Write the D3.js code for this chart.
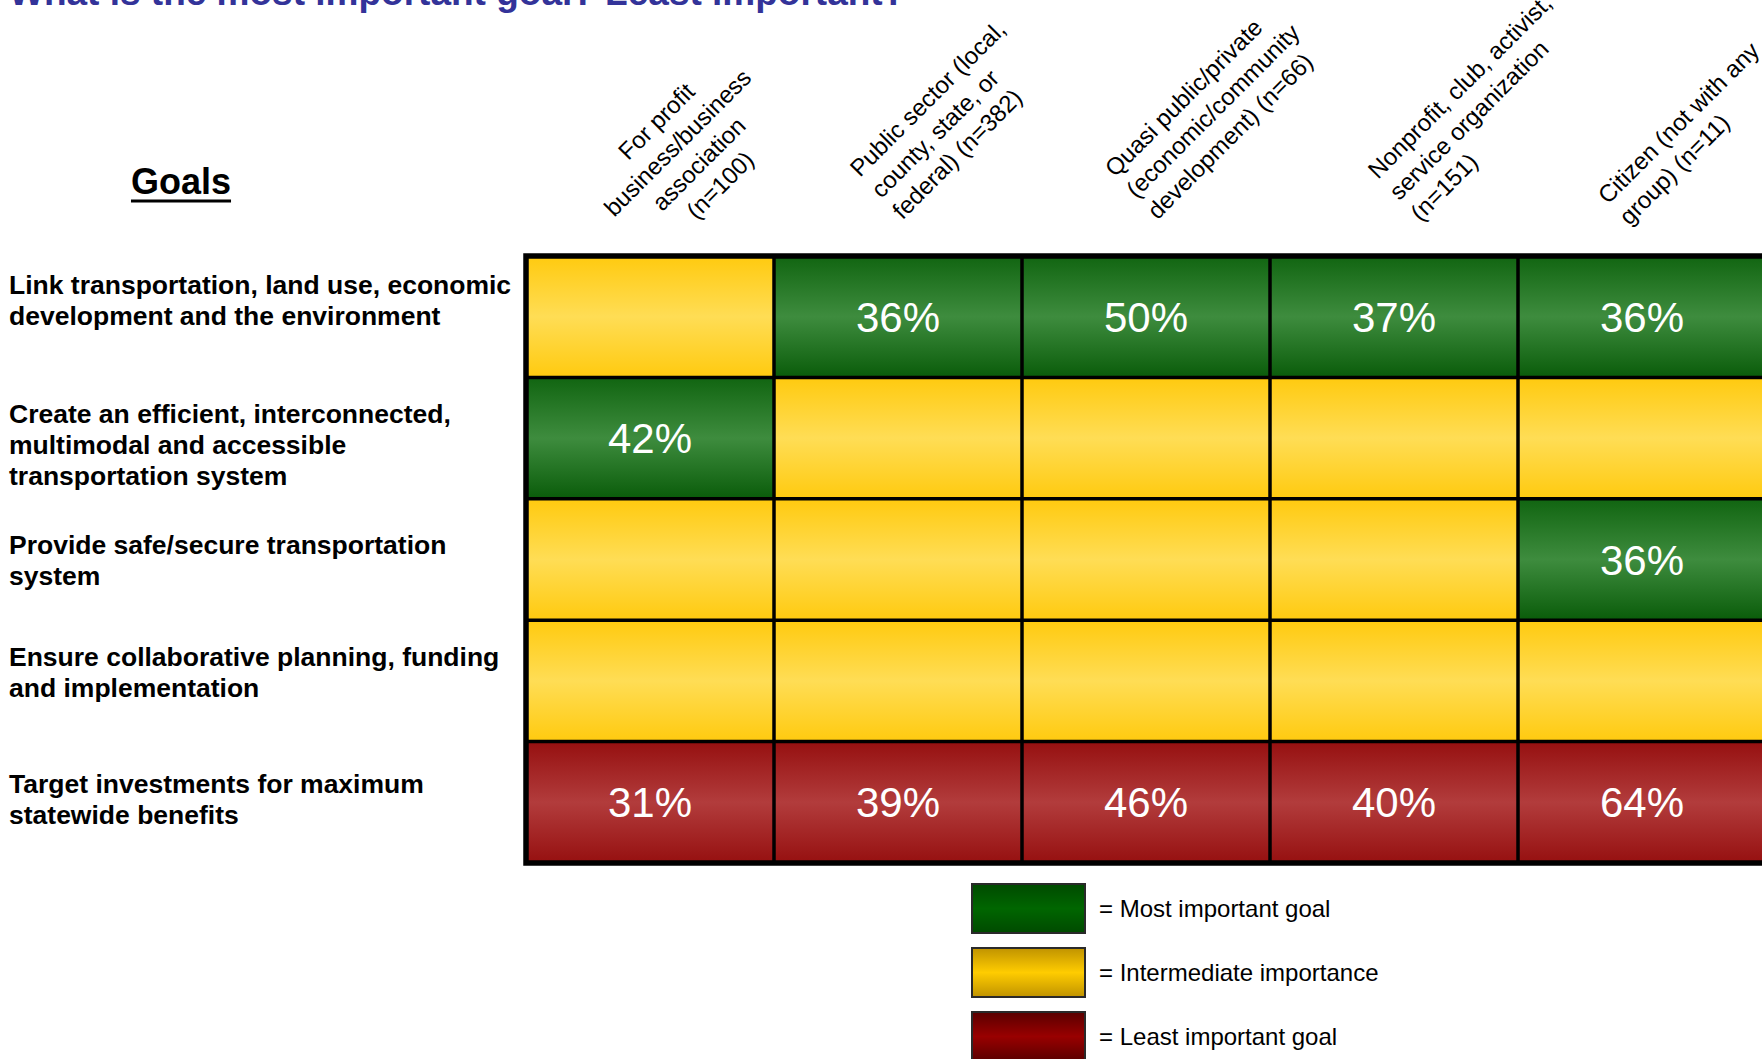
<!DOCTYPE html>
<html>
<head>
<meta charset="utf-8">
<script src="https://cdn.jsdelivr.net/npm/d3@7"></script>
<style>
  html, body { margin: 0; padding: 0; background: #fff; overflow: hidden; }
  svg { display: block; font-family: "Liberation Sans", Arial, Helvetica, sans-serif; }
</style>
</head>
<body>
<svg id="chart" width="1762" height="1059"></svg>
<script>
// ---- data ----------------------------------------------------------------
const titleText = "What is the most important goal? Least important?";

const goals = ["link", "system", "safe", "collab", "invest"];
const goalLabels = [
  ["Link transportation, land use, economic", "development and the environment"],
  ["Create an efficient, interconnected,", "multimodal and accessible", "transportation system"],
  ["Provide safe/secure transportation", "system"],
  ["Ensure collaborative planning, funding", "and implementation"],
  ["Target investments for maximum", "statewide benefits"]
];

const groups = ["forprofit", "public", "quasi", "nonprofit", "citizen"];
const groupLabels = [
  ["For profit", "business/business", "association", "(n=100)"],
  ["Public sector (local,", "county, state, or", "federal) (n=382)"],
  ["Quasi public/private", "(economic/community", "development) (n=66)"],
  ["Nonprofit, club, activist,", "service organization", "(n=151)"],
  ["Citizen (not with any", "group) (n=11)"]
];

// importance class of each goal (rows) for each respondent group (columns)
const ratings = [
  ["mid",   "most",  "most",  "most",  "most"],
  ["most",  "mid",   "mid",   "mid",   "mid"],
  ["mid",   "mid",   "mid",   "mid",   "most"],
  ["mid",   "mid",   "mid",   "mid",   "mid"],
  ["least", "least", "least", "least", "least"]
];

// share of respondents (%) shown in the cell
const shares = [
  [null, 36,   50,   37,   36],
  [42,   null, null, null, null],
  [null, null, null, null, 36],
  [null, null, null, null, null],
  [31,   39,   46,   40,   64]
];

const legendKeys = ["most", "mid", "least"];
const legendLabels = ["= Most important goal", "= Intermediate importance", "= Least important goal"];

// ---- layout ----------------------------------------------------------------
const svg = d3.select("#chart");
const grid = { left: 526, top: 256, colW: 248, bottom: 863 };

const x = d3.scaleBand().domain(groups)
  .range([grid.left, grid.left + groups.length * grid.colW]).padding(0);
const y = d3.scaleBand().domain(goals)
  .range([grid.top, grid.bottom]).padding(0);

// header text boxes: alignment and anchor point relative to each column's left edge
const headerBox = [
  { align: "middle", dx: 162, dy: 153 },
  { align: "start",  dx: 86,  dy: 178 },
  { align: "start",  dx: 93,  dy: 178 },
  { align: "start",  dx: 108, dy: 180 },
  { align: "start",  dx: 90,  dy: 205 }
];
// vertical nudge of each goal label block from its row centre
const rowNudge = [-17, 6, 0, -9, -3];

// ---- gradients ---------------------------------------------------------------
const defs = svg.append("defs");
const cellStops = {
  most:  [["0%", "#116511"], ["50%", "#3e8c3e"], ["100%", "#0a5c0a"]],
  mid:   [["0%", "#ffca0f"], ["50%", "#ffdd55"], ["100%", "#ffca0f"]],
  least: [["0%", "#961010"], ["50%", "#b23c3c"], ["100%", "#961010"]]
};
const keyStops = {
  most:  [["0%", "#004a00"], ["50%", "#006600"], ["100%", "#004a00"]],
  mid:   [["0%", "#c09300"], ["50%", "#ffcc00"], ["100%", "#c09300"]],
  least: [["0%", "#5a0000"], ["50%", "#990000"], ["100%", "#5a0000"]]
};
function addGradient(id, stops) {
  const g = defs.append("linearGradient").attr("id", id)
    .attr("x1", 0).attr("y1", 0).attr("x2", 0).attr("y2", 1);
  g.selectAll("stop").data(stops).join("stop")
    .attr("offset", d => d[0]).attr("stop-color", d => d[1]);
}
Object.entries(cellStops).forEach(([k, s]) => addGradient("cell-" + k, s));
Object.entries(keyStops).forEach(([k, s]) => addGradient("key-" + k, s));

// ---- title ---------------------------------------------------------------
svg.append("text")
  .attr("x", 9).attr("y", 5)
  .attr("font-size", 37).attr("font-weight", "bold")
  .attr("fill", "#333399")
  .text(titleText);

// ---- "Goals" heading -------------------------------------------------------
const goalsHead = svg.append("text")
  .attr("x", 181).attr("y", 194)
  .attr("text-anchor", "middle")
  .attr("font-size", 36).attr("font-weight", "bold")
  .attr("fill", "#000")
  .text("Goals");
const gb = goalsHead.node().getBBox();
svg.append("rect")
  .attr("x", gb.x).attr("y", 199.5)
  .attr("width", gb.width).attr("height", 3)
  .attr("fill", "#000");

// ---- row labels ------------------------------------------------------------
const rowLineH = 31;
svg.append("g").selectAll("text").data(goals).join("text")
  .attr("font-size", 26.5).attr("font-weight", "bold").attr("fill", "#000")
  .each(function (g, i) {
    const lines = goalLabels[i];
    const cy = y(g) + y.bandwidth() / 2 + rowNudge[i];
    const first = cy - (lines.length - 1) * rowLineH / 2;
    d3.select(this).selectAll("tspan").data(lines).join("tspan")
      .attr("x", 9)
      .attr("y", (d, k) => first + k * rowLineH)
      .attr("dy", "0.36em")
      .text(d => d);
  });

// ---- column headers ----------------------------------------------------------
const headLineH = 30;
svg.append("g").selectAll("g").data(groups).join("g")
  .attr("transform", (g, i) =>
    `translate(${x(g) + headerBox[i].dx},${headerBox[i].dy}) rotate(-45)`)
  .each(function (g, i) {
    const lines = groupLabels[i];
    const box = headerBox[i];
    // centred blocks are anchored at their middle, left-aligned ones at the first baseline
    const first = box.align === "middle" ? -(lines.length - 1) * headLineH / 2 : 0;
    const shift = box.align === "middle" ? "0.36em" : "0";
    d3.select(this).append("text")
      .attr("text-anchor", box.align)
      .attr("font-size", 24).attr("fill", "#000")
      .selectAll("tspan").data(lines).join("tspan")
      .attr("x", 0)
      .attr("y", (d, k) => first + k * headLineH)
      .attr("dy", shift)
      .text(d => d);
  });

// ---- cells -----------------------------------------------------------------
const cells = [];
goals.forEach((g, r) => groups.forEach((c, k) => {
  cells.push({ goal: g, group: c, rating: ratings[r][k], share: shares[r][k] });
}));

const cellG = svg.append("g");
cellG.selectAll("rect").data(cells).join("rect")
  .attr("x", d => x(d.group)).attr("y", d => y(d.goal))
  .attr("width", x.bandwidth()).attr("height", y.bandwidth())
  .attr("fill", d => `url(#cell-${d.rating})`);

cellG.selectAll("text").data(cells.filter(d => d.share != null)).join("text")
  .attr("x", d => x(d.group) + x.bandwidth() / 2)
  .attr("y", d => y(d.goal) + y.bandwidth() / 2)
  .attr("dy", "0.36em")
  .attr("text-anchor", "middle")
  .attr("font-size", 42).attr("fill", "#fff")
  .text(d => d.share + "%");

// grid lines
const gridG = svg.append("g").attr("stroke", "#000");
gridG.selectAll("line.v").data(groups.slice(1)).join("line")
  .attr("class", "v")
  .attr("x1", d => x(d)).attr("x2", d => x(d))
  .attr("y1", grid.top).attr("y2", grid.bottom)
  .attr("stroke-width", 3.5);
gridG.selectAll("line.h").data(goals.slice(1)).join("line")
  .attr("class", "h")
  .attr("x1", grid.left).attr("x2", x.range()[1])
  .attr("y1", d => y(d)).attr("y2", d => y(d))
  .attr("stroke-width", 3.5);
gridG.append("rect")
  .attr("x", grid.left).attr("y", grid.top)
  .attr("width", x.range()[1] - grid.left).attr("height", grid.bottom - grid.top)
  .attr("fill", "none").attr("stroke-width", 5.5);

// ---- legend ----------------------------------------------------------------
const legend = svg.append("g").attr("transform", "translate(972,884)");
const keyRow = legend.selectAll("g").data(legendKeys).join("g")
  .attr("transform", (d, i) => `translate(0,${i * 64})`);
keyRow.append("rect")
  .attr("x", 0).attr("y", 0).attr("width", 113).attr("height", 49)
  .attr("fill", d => `url(#key-${d})`)
  .attr("stroke", "#2a2a2a").attr("stroke-width", 2);
keyRow.append("text")
  .attr("x", 127).attr("y", 24.5).attr("dy", "0.36em")
  .attr("font-size", 24).attr("fill", "#000")
  .text((d, i) => legendLabels[i]);
</script>
</body>
</html>
